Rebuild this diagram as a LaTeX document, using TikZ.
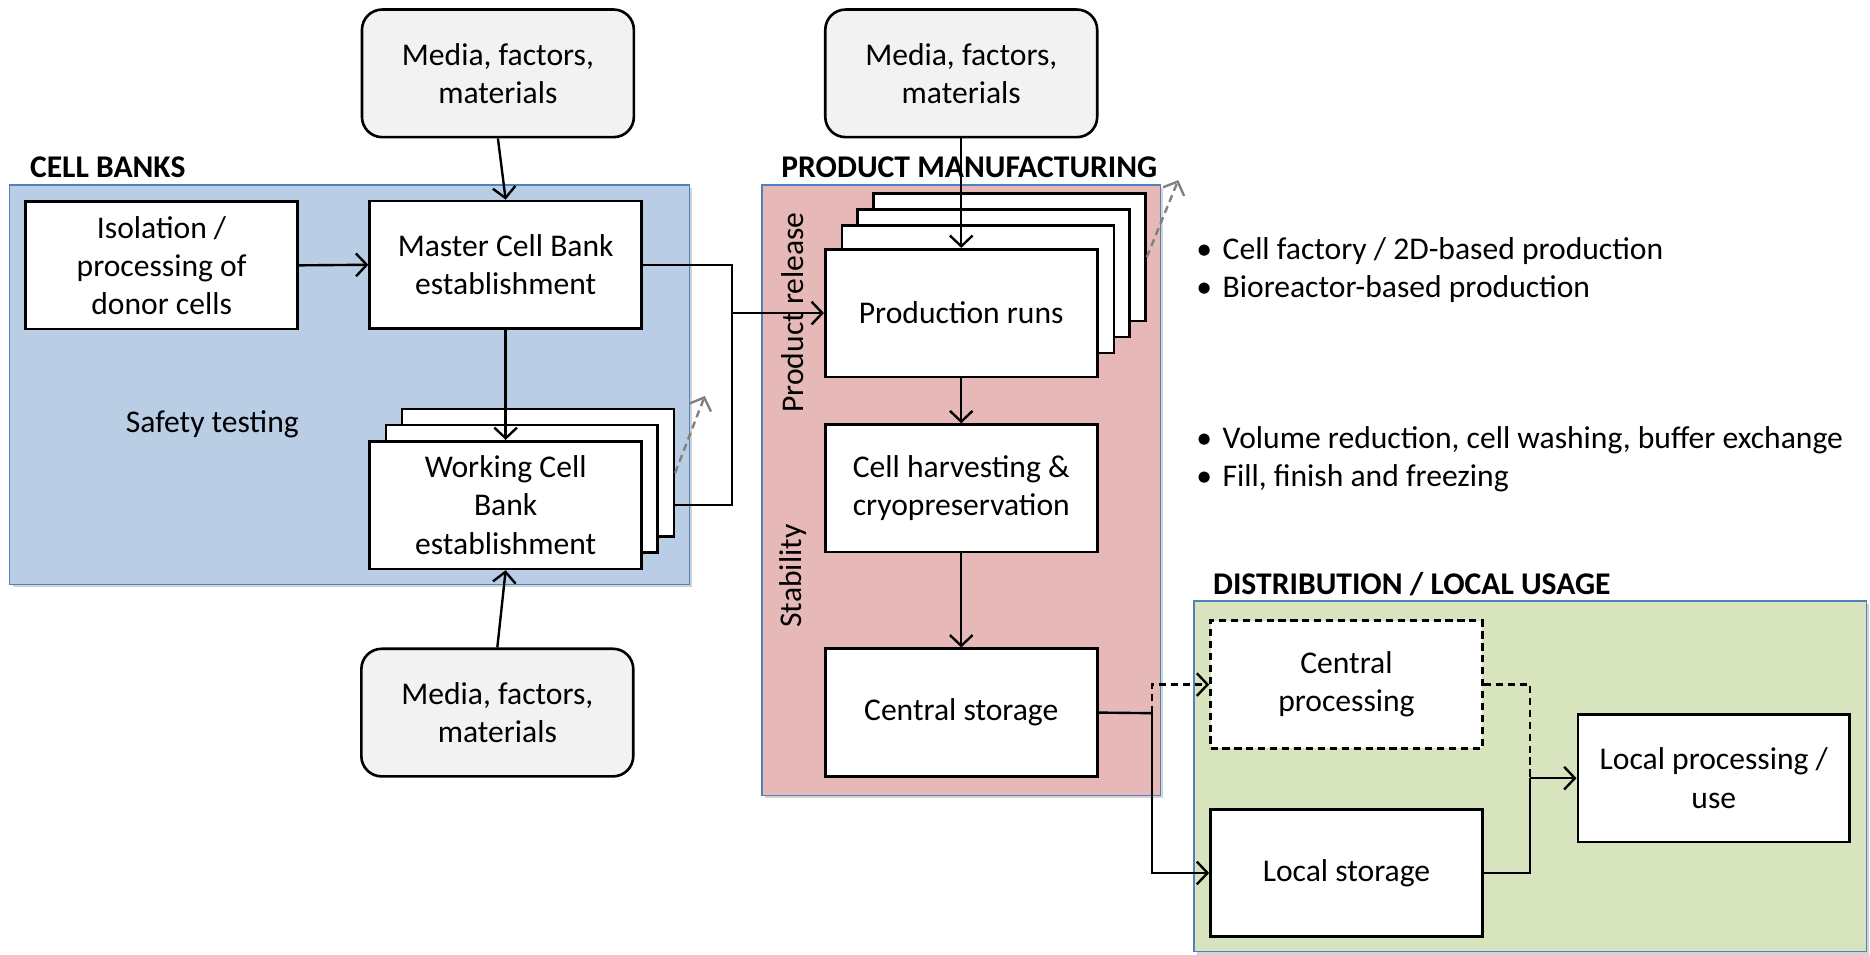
\documentclass[tikz,border=0pt]{standalone}
\usepackage{fontspec}
\setmainfont{Carlito}
\usetikzlibrary{arrows.meta,shadows}
\definecolor{bankblue}{HTML}{B9CDE5}
\definecolor{mfgpink}{HTML}{E6B9B8}
\definecolor{distgreen}{HTML}{D7E4BD}
\definecolor{edgeblue}{HTML}{4F81BD}
\definecolor{mediagray}{HTML}{F2F2F2}
\begin{document}
\begin{tikzpicture}[x=1pt,y=-1pt,
  every node/.style={font=\fontsize{26.5}{32}\selectfont},
  container/.style={draw=edgeblue,line width=1.3pt,drop shadow={shadow xshift=2.5pt,shadow yshift=-2.5pt,opacity=0.35}},
  procbox/.style={draw=black,line width=2.2pt,fill=white,minimum width=228pt,minimum height=107pt,align=center,inner sep=0pt},
  mediabox/.style={procbox,fill=mediagray,rounded corners=17pt},
  dashbox/.style={procbox,dash pattern=on 6pt off 4pt},
  header/.style={font=\fontsize{26.5}{32}\selectfont\bfseries,anchor=west,inner sep=0pt},
  link/.style={draw=black,line width=2pt},
  arr/.style={link,-{Straight Barb[length=9pt,width=19pt,line width=2pt]}},
  dasharr/.style={arr,dash pattern=on 6pt off 4pt},
  dashlink/.style={link,dash pattern=on 6pt off 4pt},
  grayarr/.style={draw=gray,line width=2pt,dash pattern=on 6pt off 4pt,-{Straight Barb[length=9pt,width=19pt,line width=2pt]}},
  bullets/.style={anchor=west,align=left,inner sep=0pt}
]
\useasboundingbox (0,0) rectangle (1568,800);

% containers
\path[container,fill=bankblue] (8,155) rectangle (578,490);
\path[container,fill=mfgpink] (639,155) rectangle (973,667);
\path[container,fill=distgreen] (1001,504) rectangle (1565,798);

% headers
\node[header] (hbank) at (25,140) {CELL BANKS};
\node[header] (hmfg) at (655,140) {PRODUCT MANUFACTURING};
\node[header] (hdist) at (1017,490) {DISTRIBUTION / LOCAL USAGE};

% cell banks
\node[mediabox] (mtop) at (417.5,61.5) {Media, factors,\\materials};
\node[procbox] (iso) at (135.5,222.5) {Isolation /\\processing of\\donor cells};
\node[procbox] (mcb) at (424,222) {Master Cell Bank\\establishment};
\node[procbox] (wcb3) at (451,396.5) {};
\node[procbox] (wcb2) at (437.5,410) {};
\node[procbox] (wcb) at (424,423.5) {Working Cell\\Bank\\establishment};
\node[mediabox] (mbot) at (417,597.5) {Media, factors,\\materials};
\node (safety) at (178,356) {Safety testing};

% manufacturing
\node[mediabox] (mtop2) at (806,61.5) {Media, factors,\\materials};
\node[procbox] (prod3) at (846.5,215.5) {};
\node[procbox] (prod2) at (833,229) {};
\node[procbox] (prod1) at (820,242.5) {};
\node[procbox] (prod) at (806,262.5) {Production runs};
\node[procbox] (harv) at (806,409.5) {Cell harvesting \&\\cryopreservation};
\node[procbox] (cstore) at (806,597.5) {Central storage};
\node[rotate=90] (prel) at (665,262) {Product release};
\node[rotate=90] (stab) at (665,483) {Stability};

% bullets
\node[bullets] (b1) at (1003,226.5) {\makebox[22pt][l]{•}Cell factory / 2D-based production\\\makebox[22pt][l]{•}Bioreactor-based production};
\node[bullets] (b2) at (1003,385) {\makebox[22pt][l]{•}Volume reduction, cell washing, buffer exchange\\\makebox[22pt][l]{•}Fill, finish and freezing};

% distribution
\node[dashbox] (cproc) at (1129,574) {Central\\processing};
\node[procbox] (lstore) at (1129,732) {Local storage};
\node[procbox] (use) at (1437,652.5) {Local processing /\\use};

% connectors
\coordinate (j1) at (614,262.5);
\coordinate (j2) at (966,598);
\coordinate (j3) at (1283,652.5);
\coordinate (g1) at (591,332);
\coordinate (g2) at (988,151);

\draw[arr] (mtop.south) -- (mcb.north);
\draw[arr] (iso.east) -- (mcb.west);
\draw[arr] (mcb.south) -- (wcb.north);
\draw[arr] (mbot.north) -- (wcb.south);
\draw[link] (mcb.east) -| (j1);
\draw[link] (wcb.east -| wcb3.east) -| (j1);
\draw[arr] (j1) -- (prod.west);
\draw[grayarr] (wcb3.east) -- (g1);

\draw[arr] (mtop2.south) -- (prod.north);
\draw[arr] (prod.south) -- (harv.north);
\draw[arr] (harv.south) -- (cstore.north);
\draw[grayarr] (prod3.east) -- (g2);

\draw[link] (cstore.east) -- (j2);
\draw[arr] (j2) |- (lstore.west);
\draw[dasharr] (j2) |- (cproc.west);
\draw[dashlink] (cproc.east) -| (j3);
\draw[link] (lstore.east) -| (j3);
\draw[arr] (j3) -- (use.west);
\end{tikzpicture}
\end{document}
